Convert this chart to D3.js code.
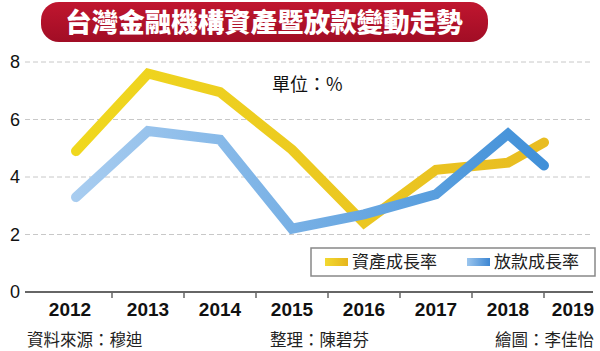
<!DOCTYPE html>
<html>
<head>
<meta charset="utf-8">
<script src="https://cdn.jsdelivr.net/npm/d3@7"></script>
<style>
  body { margin: 0; background: #fff; }
  svg { display: block; font-family: "Liberation Sans", Arial, sans-serif; }
  .cjk { font-family: "Noto Sans CJK TC", "Noto Sans CJK SC", sans-serif; }
</style>
</head>
<body>
<div id="chart"></div>
<script>
// Values
const years = ["2012", "2013", "2014", "2015", "2016", "2017", "2018", "2019"];
// time position of each point (mid-year, last point at start of 2019)
const periods = [2012.5, 2013.5, 2014.5, 2015.5, 2016.5, 2017.5, 2018.5, 2019.0];
const assetGrowth = [4.9, 7.6, 6.95, 4.95, 2.4, 4.25, 4.5, 5.2];
const loanGrowth = [3.3, 5.6, 5.3, 2.2, 2.7, 3.4, 5.5, 4.4];
const yTicks = [0, 2, 4, 6, 8];

const W = 600, H = 351;

const svg = d3.select("#chart").append("svg")
    .attr("width", W)
    .attr("height", H);

const defs = svg.append("defs");

// gradients
function grad(id, c1, c2, x1, x2) {
    const g = defs.append("linearGradient")
        .attr("id", id)
        .attr("gradientUnits", "userSpaceOnUse")
        .attr("x1", x1).attr("x2", x2).attr("y1", 0).attr("y2", 0);
    g.append("stop").attr("offset", "0%").attr("stop-color", c1);
    g.append("stop").attr("offset", "100%").attr("stop-color", c2);
}
grad("gYellow", "#f0d81e", "#e8bc22", 70, 550);
grad("gBlue", "#a9cdf0", "#3f8fd8", 70, 550);
grad("gYellowSw", "#f2d930", "#e6b51c", 325, 348);
grad("gBlueSw", "#9cc6ee", "#3c86d2", 467, 490);

const tg = defs.append("linearGradient").attr("id", "gTitle").attr("x1", 0).attr("x2", 0).attr("y1", 0).attr("y2", 1);
tg.append("stop").attr("offset", "0%").attr("stop-color", "#c0162f");
tg.append("stop").attr("offset", "100%").attr("stop-color", "#a10d25");

// Scales
const x = d3.scaleLinear()
    .domain([2013, 2019])
    .range([112, 544]);

const y = d3.scaleLinear()
    .domain([0, 8])
    .range([292, 62]);

// Title
svg.append("rect")
    .attr("x", 41).attr("y", 2)
    .attr("width", 447).attr("height", 40)
    .attr("rx", 18)
    .attr("fill", "url(#gTitle)");

svg.append("text")
    .attr("class", "cjk")
    .attr("x", 264).attr("y", 32)
    .attr("text-anchor", "middle")
    .attr("fill", "#fff")
    .style("font-size", "26.5px")
    .style("font-weight", "900")
    .text("台灣金融機構資產暨放款變動走勢");

// Grid lines
svg.append("g")
    .selectAll("line")
    .data(yTicks.filter(d => d > 0))
    .join("line")
    .attr("x1", 25).attr("x2", 592)
    .attr("y1", d => y(d)).attr("y2", d => y(d))
    .attr("stroke", "#c8c8c8")
    .attr("stroke-width", 1)
    .attr("stroke-dasharray", "5,3");

// Y labels
svg.append("g")
    .selectAll("text")
    .data(yTicks)
    .join("text")
    .attr("x", 15)
    .attr("y", d => y(d))
    .attr("dy", "0.36em")
    .attr("text-anchor", "middle")
    .attr("fill", "#111")
    .style("font-size", "18px")
    .text(d => d);

// Unit
svg.append("text")
    .attr("class", "cjk")
    .attr("x", 272).attr("y", 91)
    .attr("fill", "#111")
    .style("font-size", "18px")
    .text("單位：%");

// Lines
const line = d3.line()
    .x((d, i) => x(periods[i]))
    .y(d => y(d));

svg.append("path")
    .datum(assetGrowth)
    .attr("d", line)
    .attr("fill", "none")
    .attr("stroke", "url(#gYellow)")
    .attr("stroke-width", 10)
    .attr("stroke-linecap", "round")
    .attr("stroke-linejoin", "miter");

svg.append("path")
    .datum(loanGrowth)
    .attr("d", line)
    .attr("fill", "none")
    .attr("stroke", "url(#gBlue)")
    .attr("stroke-width", 10)
    .attr("stroke-linecap", "round")
    .attr("stroke-linejoin", "miter");

// X axis
svg.append("line")
    .attr("x1", 25).attr("x2", 593)
    .attr("y1", y(0)).attr("y2", y(0))
    .attr("stroke", "#666")
    .attr("stroke-width", 2);

svg.append("g")
    .selectAll("line")
    .data(years.slice(1).map(d => +d))
    .join("line")
    .attr("x1", d => x(d)).attr("x2", d => x(d))
    .attr("y1", y(0)).attr("y2", y(0) + 6)
    .attr("stroke", "#666")
    .attr("stroke-width", 1.5);

svg.append("g")
    .selectAll("text")
    .data(years)
    .join("text")
    .attr("x", (d, i) => x(+d + 0.5) + (i === 0 ? -6 : i === years.length - 1 ? -7 : 0))
    .attr("y", 316)
    .attr("text-anchor", "middle")
    .attr("fill", "#111")
    .style("font-size", "19px")
    .style("font-weight", "bold")
    .text(d => d);

// Legend
const legend = svg.append("g");
legend.append("rect")
    .attr("x", 311).attr("y", 248)
    .attr("width", 284).attr("height", 28)
    .attr("fill", "#fff")
    .attr("stroke", "#888")
    .attr("stroke-width", 1.5);

const legendItems = [
    { label: "資產成長率", fill: "url(#gYellowSw)", x: 325 },
    { label: "放款成長率", fill: "url(#gBlueSw)", x: 467 }
];
legendItems.forEach(it => {
    legend.append("rect")
        .attr("x", it.x).attr("y", 258)
        .attr("width", 23).attr("height", 8)
        .attr("fill", it.fill);
    legend.append("text")
        .attr("class", "cjk")
        .attr("x", it.x + 27).attr("y", 268)
        .attr("fill", "#222")
        .style("font-size", "17px")
        .text(it.label);
});

// Footer
const footer = [
    { t: "資料來源：穆迪", x: 27, anchor: "start" },
    { t: "整理：陳碧芬", x: 270, anchor: "start" },
    { t: "繪圖：李佳怡", x: 594, anchor: "end" }
];
svg.append("g")
    .selectAll("text")
    .data(footer)
    .join("text")
    .attr("class", "cjk")
    .attr("x", d => d.x)
    .attr("y", 346)
    .attr("text-anchor", d => d.anchor)
    .attr("fill", "#222")
    .style("font-size", "16.5px")
    .text(d => d.t);
</script>
</body>
</html>
